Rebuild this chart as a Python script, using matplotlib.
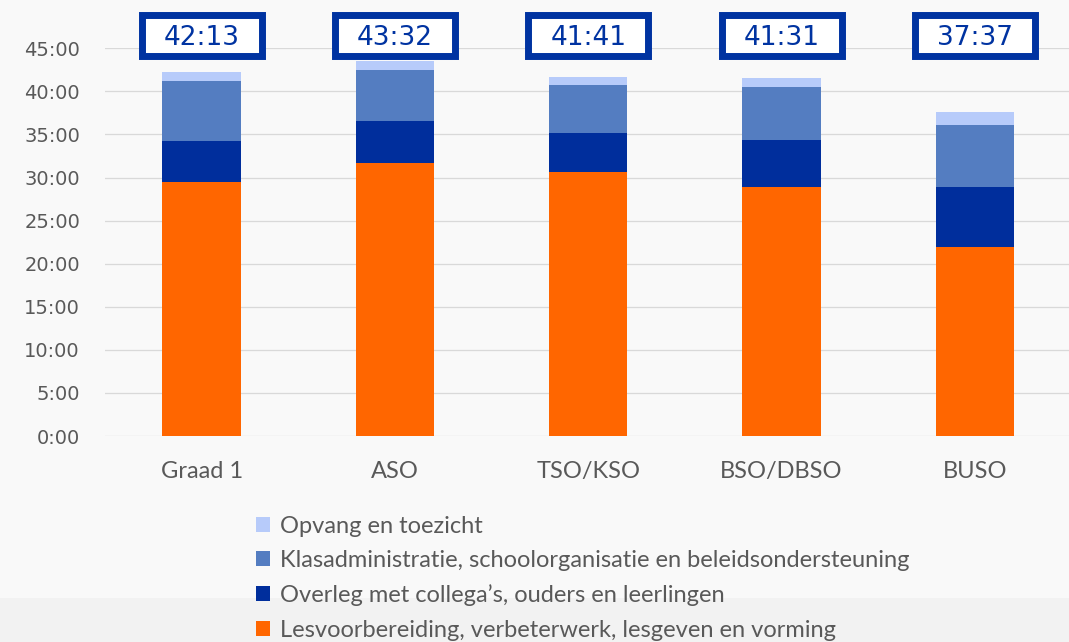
import numpy as np
import matplotlib
matplotlib.use("Agg")
import matplotlib.pyplot as plt
from matplotlib.patches import Rectangle

# data (hours per week)
categories = ["Graad 1", "ASO", "TSO/KSO", "BSO/DBSO", "BUSO"]
totals_lbl = ["42:13", "43:32", "41:41", "41:31", "37:37"]
lesvoorbereiding = [29.51, 31.72, 30.61, 28.90, 21.94]
overleg = [4.76, 4.84, 4.52, 5.45, 6.92]
klasadmin = [6.93, 5.92, 5.61, 6.19, 7.20]
opvang = [1.02, 1.05, 0.94, 0.98, 1.56]

series = [
    ("Lesvoorbereiding, verbeterwerk, lesgeven en vorming", lesvoorbereiding, "#FF6600"),
    ("Overleg met collega\u2019s, ouders en leerlingen", overleg, "#002E9C"),
    ("Klasadministratie, schoolorganisatie en beleidsondersteuning", klasadmin, "#547DC1"),
    ("Opvang en toezicht", opvang, "#B7CBFA"),
]

BG = "#F9F9F9"
TXT = "#595959"
BOX = "#0033A1"

W, H = 1069, 642
fig = plt.figure(figsize=(W / 100, H / 100), dpi=100, facecolor=BG)

# slightly darker band at the bottom
fig.patches.append(Rectangle((0, 0), 1, 44 / H, transform=fig.transFigure,
                             facecolor="#F2F2F2", edgecolor="none", zorder=0))

ax = fig.add_axes([105 / W, (H - 436) / H, 966.5 / W, 387.7 / H])
ax.set_facecolor("none")

x = np.arange(len(categories))
bottom = np.zeros(len(categories))
handles = []
for name, vals, col in series:
    b = ax.bar(x, vals, 0.406, bottom=bottom, color=col, label=name, zorder=3)
    handles.append(b)
    bottom += np.array(vals)

ax.set_xlim(-0.5, len(categories) - 0.5)
ax.set_ylim(0, 45)
yt = np.arange(0, 46, 5)
ax.set_yticks(yt)
ax.set_yticklabels([f"{v}:00" for v in yt], fontsize=14, color=TXT,
                   family="DejaVu Sans")
ax.set_xticks(x)
ax.set_xticklabels(categories, fontsize=17, color=TXT, family="Lato")
ax.tick_params(axis="y", length=0, pad=18)
ax.tick_params(axis="x", length=0, pad=18)
ax.grid(axis="y", color="#D9D9D9", linewidth=0.9, zorder=0)
for s in ax.spines.values():
    s.set_visible(False)

# boxed totals above the bars
px = 8.616  # pixels per hour
yc = (436 - 35) / px
for i, lbl in enumerate(totals_lbl):
    rect = Rectangle((i - 0.3105, yc - 41 / px / 2), 0.621, 41 / px,
                     facecolor="white", edgecolor=BOX, linewidth=5.0,
                     clip_on=False, zorder=5)
    ax.add_patch(rect)
    ax.text(i, yc - 9.5 / px, lbl, ha="center", va="baseline", fontsize=19,
            color=BOX, family="DejaVu Sans", clip_on=False, zorder=6)

leg = fig.legend(handles[::-1], [s[0] for s in series][::-1],
                 loc="upper left", bbox_to_anchor=(256 / W, (H - 516) / H),
                 frameon=False, prop={"family": "Lato", "size": 17},
                 labelcolor=TXT, handlelength=0.6, handleheight=0.6,
                 handletextpad=0.4, labelspacing=0.56, borderpad=0,
                 borderaxespad=0)

fig.savefig("out.png", dpi=100, facecolor=BG)
